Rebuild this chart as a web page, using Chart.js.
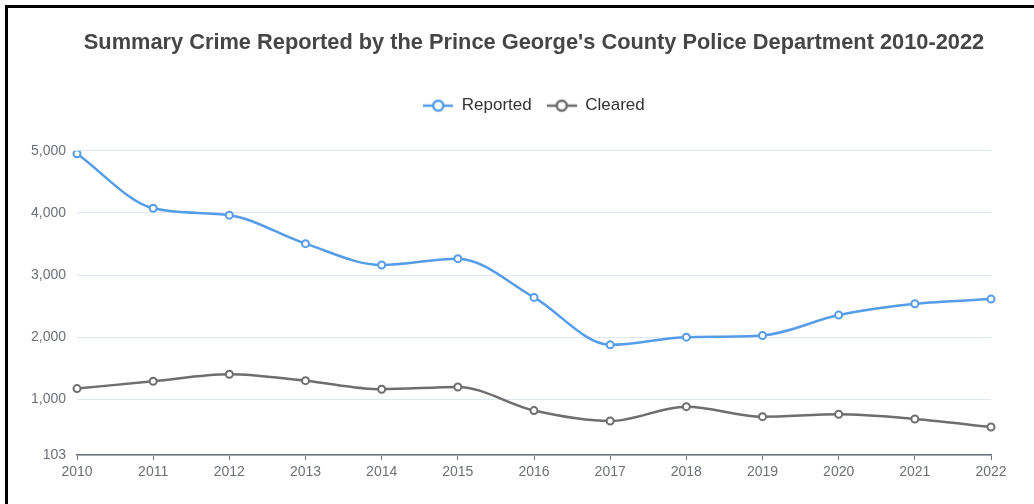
<!DOCTYPE html>
<html>
<head>
<meta charset="utf-8">
<script src="https://cdn.jsdelivr.net/npm/chart.js@4/dist/chart.umd.min.js"></script>
<style>
  html, body { margin: 0; padding: 0; background: #fff; }
  #wrap { position: relative; width: 1034px; height: 504px; overflow: hidden; }
  #chart { position: absolute; left: 0; top: 0; }
  #frame {
    position: absolute; left: 5px; top: 5px; width: 1040px; height: 520px;
    border-left: 3px solid #000; border-top: 3px solid #000;
    pointer-events: none;
  }
</style>
</head>
<body>
<div id="wrap">
  <canvas id="chart" width="1034" height="504"></canvas>
  <div id="frame"></div>
</div>
<script>
// values
var years = ['2010', '2011', '2012', '2013', '2014', '2015', '2016', '2017', '2018', '2019', '2020', '2021', '2022'];
var reported = [4952, 4075, 3963, 3505, 3161, 3263, 2640, 1876, 2000, 2027, 2355, 2537, 2613];
var cleared = [1172, 1290, 1403, 1300, 1161, 1198, 818, 650, 881, 720, 758, 683, 554];
var yTicks = [103, 1000, 2000, 3000, 4000, 5000];

var BLUE = '#559de8';
var GREY = '#6e6e6e';
var FONT = '"Liberation Sans", Arial, Helvetica, sans-serif';

/**
 * Legend icon: short line with an open circle on it
 */
function legendIcon(color) {
    var c = document.createElement('canvas');
    c.width = 30;
    c.height = 14;
    var g = c.getContext('2d');
    g.strokeStyle = color;
    g.lineWidth = 2.5;
    g.beginPath();
    g.moveTo(0, 7);
    g.lineTo(30, 7);
    g.stroke();
    g.beginPath();
    g.arc(15, 7, 5, 0, Math.PI * 2);
    g.fillStyle = '#fff';
    g.fill();
    g.stroke();
    return c;
}
var icons = [legendIcon(BLUE), legendIcon(GREY)];

function series(label, values, color) {
    return {
        label: label,
        data: values,
        borderColor: color,
        backgroundColor: '#fff',
        borderWidth: 2.5,
        tension: 0.4,
        cubicInterpolationMode: 'monotone',
        pointRadius: 3.5,
        pointBorderWidth: 2,
        pointBackgroundColor: '#fff',
        pointBorderColor: color,
        fill: false
    };
}

var ctx = document.getElementById('chart').getContext('2d');

new Chart(ctx, {
    type: 'line',
    data: {
        labels: years,
        datasets: [
            series('Reported', reported, BLUE),
            series('Cleared', cleared, GREY)
        ]
    },
    options: {
        responsive: false,
        animation: false,
        layout: { padding: { left: 0, right: 43, top: 0, bottom: 0 } },
        plugins: {
            tooltip: { enabled: false },
            // fullSize false: title and legend centre over the plot, not the canvas
            title: {
                display: true,
                fullSize: false,
                text: "Summary Crime Reported by the Prince George's County Police Department 2010-2022",
                color: '#464646',
                font: { family: FONT, size: 21.8, weight: 'bold' },
                padding: { top: 30, bottom: 26 }
            },
            // empty spacer placed between legend and plot
            subtitle: {
                display: true,
                fullSize: false,
                text: '',
                weight: 500,
                font: { family: FONT, size: 10 },
                padding: { top: 0, bottom: 14.6 }
            },
            legend: {
                display: true,
                fullSize: false,
                labels: {
                    color: '#333',
                    font: { family: FONT, size: 17 },
                    usePointStyle: true,
                    pointStyleWidth: 30,
                    padding: 15,
                    generateLabels: function (chart) {
                        return chart.data.datasets.map(function (ds, i) {
                            return {
                                text: ds.label,
                                pointStyle: icons[i],
                                fillStyle: '#fff',
                                strokeStyle: ds.borderColor,
                                lineWidth: 0,
                                fontColor: '#333',
                                hidden: false,
                                datasetIndex: i
                            };
                        });
                    }
                }
            }
        },
        scales: {
            x: {
                offset: false,
                grid: {
                    display: true,
                    drawOnChartArea: false,
                    drawTicks: true,
                    tickLength: 5,
                    color: '#6e7079'
                },
                border: { display: true, color: '#6e7079', width: 1.5 },
                ticks: {
                    color: '#6e7079',
                    font: { family: FONT, size: 14 },
                    autoSkip: false,
                    maxRotation: 0,
                    padding: 4
                },
                afterFit: function (scale) { scale.height = 49; }
            },
            y: {
                min: 103,
                max: 5000,
                grid: { color: '#e0e6f1', drawTicks: false },
                border: { display: false },
                ticks: {
                    color: '#6e7079',
                    font: { family: FONT, size: 14 },
                    padding: 11,
                    callback: function (v) { return Number(v).toLocaleString('en-US'); }
                },
                afterBuildTicks: function (scale) {
                    scale.ticks = yTicks.map(function (v) { return { value: v }; });
                },
                afterFit: function (scale) { scale.width = 77; }
            }
        }
    }
});
</script>
</body>
</html>
